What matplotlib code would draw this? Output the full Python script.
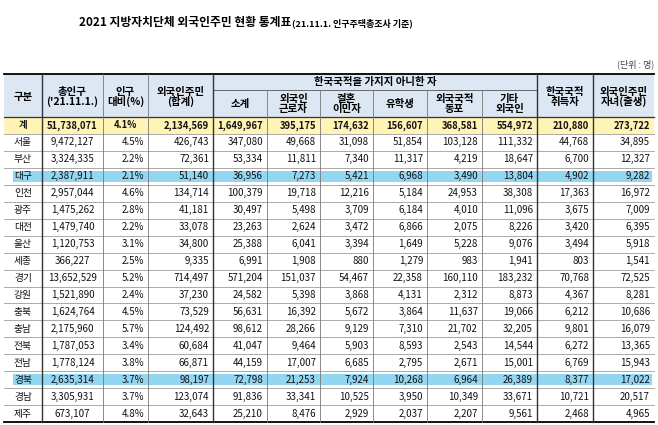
import matplotlib
matplotlib.use("Agg")
import matplotlib.pyplot as plt
from matplotlib.patches import Rectangle

plt.rcParams['font.family'] = ['Noto Sans CJK KR', 'DejaVu Sans']

regions = ['계', '서울', '부산', '대구', '인천', '광주', '대전', '울산', '세종', '경기',
           '강원', '충북', '충남', '전북', '전남', '경북', '경남', '제주']
total_pop = ['51,738,071', '9,472,127', '3,324,335', '2,387,911', '2,957,044', '1,475,262',
             '1,479,740', '1,120,753', '366,227', '13,652,529', '1,521,890', '1,624,764',
             '2,175,960', '1,787,053', '1,778,124', '2,635,314', '3,305,931', '673,107']
pop_ratio = ['4.1%', '4.5%', '2.2%', '2.1%', '4.6%', '2.8%', '2.2%', '3.1%', '2.5%', '5.2%',
             '2.4%', '4.5%', '5.7%', '3.4%', '3.8%', '3.7%', '3.7%', '4.8%']
foreign_total = ['2,134,569', '426,743', '72,361', '51,140', '134,714', '41,181', '33,078',
                 '34,800', '9,335', '714,497', '37,230', '73,529', '124,492', '60,684',
                 '66,871', '98,197', '123,074', '32,643']
subtotal = ['1,649,967', '347,080', '53,334', '36,956', '100,379', '30,497', '23,263',
            '25,388', '6,991', '571,204', '24,582', '56,631', '98,612', '41,047', '44,159',
            '72,798', '91,836', '25,210']
workers = ['395,175', '49,668', '11,811', '7,273', '19,718', '5,498', '2,624', '6,041',
           '1,908', '151,037', '5,398', '16,392', '28,266', '9,464', '17,007', '21,253',
           '33,341', '8,476']
marriage = ['174,632', '31,098', '7,340', '5,421', '12,216', '3,709', '3,472', '3,394', '880',
            '54,467', '3,868', '5,672', '9,129', '5,903', '6,685', '7,924', '10,525', '2,929']
students = ['156,607', '51,854', '11,317', '6,968', '5,184', '6,184', '6,866', '1,649',
            '1,279', '22,358', '4,131', '3,864', '7,310', '8,593', '2,795', '10,268', '3,950',
            '2,037']
compatriots = ['368,581', '103,128', '4,219', '3,490', '24,953', '4,010', '2,075', '5,228',
               '983', '160,110', '2,312', '11,637', '21,702', '2,543', '2,671', '6,964',
               '10,349', '2,207']
others = ['554,972', '111,332', '18,647', '13,804', '38,308', '11,096', '8,226', '9,076',
          '1,941', '183,232', '8,873', '19,066', '32,205', '14,544', '15,001', '26,389',
          '33,671', '9,561']
naturalized = ['210,880', '44,768', '6,700', '4,902', '17,363', '3,675', '3,420', '3,494',
               '803', '70,768', '4,367', '6,212', '9,801', '6,272', '6,769', '8,377', '10,721',
               '2,468']
children = ['273,722', '34,895', '12,327', '9,282', '16,972', '7,009', '6,395', '5,918',
            '1,541', '72,525', '8,281', '10,686', '16,079', '13,365', '15,943', '17,022',
            '20,517', '4,965']

columns = [regions, total_pop, pop_ratio, foreign_total, subtotal, workers, marriage,
           students, compatriots, others, naturalized, children]
highlight = ['대구', '경북']

# layout in pixels
xs = [4, 42, 103, 148, 213, 267, 320, 373, 427, 482, 537, 593, 654]
y_top, y_mid, y_head = 74, 90, 117
row_h = 16.95
W, H = 658, 425

fig = plt.figure(figsize=(W / 100, H / 100), dpi=100)
ax = fig.add_axes([0, 0, 1, 1])
ax.set_xlim(0, W)
ax.set_ylim(H, 0)
ax.axis('off')

ax.text(291, 22, '2021 지방자치단체 외국인주민 현황 통계표', ha='right', va='center',
        fontsize=8.5, fontweight='bold')
ax.text(292, 23, '(21.11.1. 인구주택총조사 기준)', ha='left', va='center',
        fontsize=6.5, fontweight='bold')
ax.text(654, 64, '(단위 : 명)', ha='right', va='center', fontsize=6.5, color='#444444')

n = len(regions)
y_bot = y_head + n * row_h

# header background
ax.add_patch(Rectangle((xs[0], y_top), xs[-1] - xs[0], y_head - y_top,
                       facecolor='#dde6f3', edgecolor='none'))
# total row
ax.add_patch(Rectangle((xs[0], y_head), xs[-1] - xs[0], row_h,
                       facecolor='#fff4b5', edgecolor='none'))
for i, r in enumerate(regions):
    if r in highlight:
        ax.add_patch(Rectangle((xs[0] + 9, y_head + (i + 0.5) * row_h - 5.5),
                               xs[-1] - xs[0] - 11, 11, facecolor='#93d6f2',
                               edgecolor='none'))

# header texts
span_heads = {0: '구분', 1: '총인구\n(\'21.11.1.)', 2: '인구\n대비(%)', 3: '외국인주민\n(합계)',
              10: '한국국적\n취득자', 11: '외국인주민\n자녀(출생)'}
for c, t in span_heads.items():
    ax.text((xs[c] + xs[c + 1]) / 2, 97, t, ha='center', va='center', fontsize=7.5,
            fontweight='bold', linespacing=0.95)
ax.text((xs[4] + xs[10]) / 2, 82, '한국국적을 가지지 아니한 자', ha='center', va='center',
        fontsize=7.5, fontweight='bold')
sub_heads = ['소계', '외국인\n근로자', '결혼\n이민자', '유학생', '외국국적\n동포', '기타\n외국인']
for k, t in enumerate(sub_heads):
    c = 4 + k
    ax.text((xs[c] + xs[c + 1]) / 2, 104, t, ha='center', va='center', fontsize=7.5,
            fontweight='bold', linespacing=0.95)

# body
for i in range(n):
    yc = y_head + (i + 0.5) * row_h
    bold = 'bold' if i == 0 else 'normal'
    for c, col in enumerate(columns):
        val = col[i]
        if c == 0 or c == 1 or (c == 2 and i == 0):
            x, ha = (xs[c] + xs[c + 1]) / 2, 'center'
        else:
            x, ha = xs[c + 1] - 4, 'right'
        ax.text(x, yc, val, ha=ha, va='center', fontsize=7 if i else 6.8, fontweight=bold,
                color='#111111')

# horizontal lines
ax.plot([xs[0], xs[-1]], [y_top, y_top], color='black', lw=1.3)
ax.plot([xs[4], xs[10]], [y_mid, y_mid], color='#555555', lw=0.6)
ax.plot([xs[0], xs[-1]], [y_head, y_head], color='#333333', lw=0.9)
for i in range(1, n):
    y = y_head + i * row_h
    ax.plot([xs[0], xs[-1]], [y, y], color='#888888', lw=0.5)
ax.plot([xs[0], xs[-1]], [y_bot, y_bot], color='black', lw=1.3)

# vertical lines
for c, x in enumerate(xs[1:-1], start=1):
    top = y_mid if 5 <= c <= 9 else y_top
    lw = 1.0 if c in (1, 4, 10, 11) else 0.6
    col = '#333333' if c in (1, 4, 10, 11) else '#777777'
    ax.plot([x, x], [top, y_bot], color=col, lw=lw)

fig.savefig('out.png', dpi=100)
